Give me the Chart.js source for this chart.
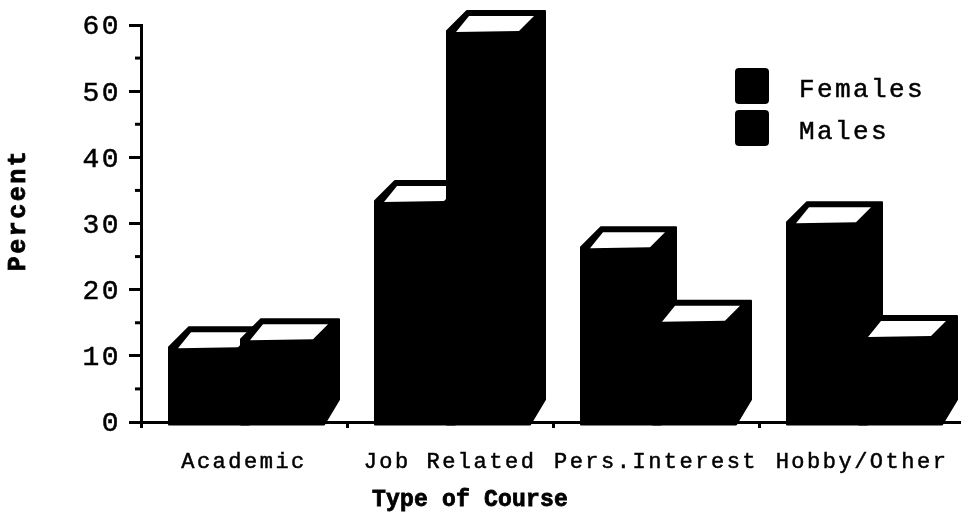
<!DOCTYPE html>
<html>
<head>
<meta charset="utf-8">
<style>
  html, body { margin: 0; background: #fff; }
  #wrap { width: 961px; height: 523px; overflow: hidden; position: relative; }
</style>
<script src="https://cdn.jsdelivr.net/npm/chart.js@4/dist/chart.umd.min.js"></script>
</head>
<body>
<div id="wrap"><canvas id="chart" width="965" height="523"></canvas></div>
<script>
const categories = ['Academic', 'Job Related', 'Pers.Interest', 'Hobby/Other'];
const females = [11.3, 33.4, 26.4, 30.2];
const males = [12.5, 59.1, 15.3, 13.0];
const minorTicks = [5, 15, 25, 35, 45, 55];
const xTitle = 'Type of Course';
const yTitle = 'Percent';

const mono = '"Liberation Mono", "DejaVu Sans Mono", monospace';
const DEPTH = 20;

// extruded bar: black silhouette with a white top face
function drawBlock(ctx, bar, grow) {
    const x0 = bar.x - bar.width / 2 - grow, x1 = bar.x + bar.width / 2;
    const top = bar.y, base = bar.base;
    ctx.fillStyle = '#000';
    ctx.strokeStyle = '#000';
    ctx.lineWidth = 2;
    ctx.lineJoin = 'round';
    ctx.beginPath();
    ctx.moveTo(x0, top);
    ctx.lineTo(x0 + DEPTH, top - DEPTH);
    ctx.lineTo(x1 + DEPTH, top - DEPTH);
    ctx.lineTo(x1 + DEPTH, base - 22);
    ctx.lineTo(x1 + 5, base + 3);
    ctx.lineTo(x0, base + 3);
    ctx.closePath();
    ctx.fill();
    ctx.stroke();

    ctx.fillStyle = '#fff';
    ctx.beginPath();
    ctx.moveTo(x0 + 9, top + 1);
    ctx.lineTo(x0 + 22, top - 15);
    ctx.lineTo(x1 + 9, top - 15);
    ctx.lineTo(x1 - 6, top);
    ctx.closePath();
    ctx.fill();
}

const printedChart = {
    id: 'printedChart',
    beforeDraw(chart) {
        chart.ctx.letterSpacing = '2.5px';
    },
    afterDatasetsDraw(chart) {
        const ctx = chart.ctx;
        ctx.save();
        chart.data.datasets.forEach((ds, i) => {
            // the right-hand block of each pair sits slightly over its neighbour
            chart.getDatasetMeta(i).data.forEach(bar => drawBlock(ctx, bar, i === 1 ? 3 : 0));
        });
        ctx.restore();
    },
    afterDraw(chart) {
        const ctx = chart.ctx;
        const yScale = chart.scales.y;
        ctx.save();

        // short ticks between the labelled ones
        ctx.strokeStyle = '#000';
        ctx.lineWidth = 3;
        minorTicks.forEach(v => {
            const py = yScale.getPixelForValue(v);
            ctx.beginPath();
            ctx.moveTo(135, py);
            ctx.lineTo(141, py);
            ctx.stroke();
        });

        // legend
        ctx.textBaseline = 'middle';
        ctx.textAlign = 'left';
        chart.data.datasets.forEach((ds, i) => {
            const top = 68 + i * 42;
            ctx.fillStyle = '#000';
            ctx.beginPath();
            ctx.roundRect(735, top, 34, 36, 4);
            ctx.fill();
            ctx.font = '26px ' + mono;
            ctx.letterSpacing = '2.4px';
            ctx.lineWidth = 0.5;
            ctx.fillText(ds.label, 799, top + 22);
            ctx.strokeText(ds.label, 799, top + 22);
        });

        // axis titles, heavier than the rest of the text
        ctx.textAlign = 'center';
        ctx.lineWidth = 0.8;
        ctx.font = 'bold 23px ' + mono;
        ctx.letterSpacing = '0.2px';
        ctx.fillText(xTitle, 470, 500);
        ctx.strokeText(xTitle, 470, 500);
        ctx.translate(19, 210);
        ctx.rotate(-Math.PI / 2);
        ctx.font = 'bold 25px ' + mono;
        ctx.letterSpacing = '2.5px';
        ctx.fillText(yTitle, 0, 0);
        ctx.strokeText(yTitle, 0, 0);
        ctx.restore();
    }
};

new Chart(document.getElementById('chart'), {
    type: 'bar',
    data: {
        labels: categories,
        datasets: [
            { label: 'Females', data: females, backgroundColor: '#000', barThickness: 75 },
            { label: 'Males', data: males, backgroundColor: '#000', barThickness: 75 }
        ]
    },
    options: {
        responsive: false,
        animation: false,
        layout: { padding: { top: 25, left: 0, right: 0, bottom: 0 } },
        plugins: { legend: { display: false }, tooltip: { enabled: false } },
        scales: {
            x: {
                afterFit(scale) { scale.height = 101; },
                border: { color: '#000', width: 3 },
                grid: { drawOnChartArea: false, color: '#000', tickLength: 6, tickWidth: 3 },
                ticks: {
                    color: '#000', font: { family: mono, size: 22 }, autoSkip: false, maxRotation: 0, padding: 21,
                    textStrokeColor: '#000', textStrokeWidth: 0.5
                }
            },
            y: {
                min: 0,
                max: 60,
                afterFit(scale) { scale.width = 141; },
                border: { color: '#000', width: 3 },
                grid: { drawOnChartArea: false, color: '#000', tickLength: 12, tickWidth: 3 },
                ticks: {
                    color: '#000', stepSize: 10, font: { family: mono, size: 28 }, padding: 8, labelOffset: 2,
                    textStrokeColor: '#000', textStrokeWidth: 0.5
                }
            }
        }
    },
    plugins: [printedChart]
});
</script>
</body>
</html>
